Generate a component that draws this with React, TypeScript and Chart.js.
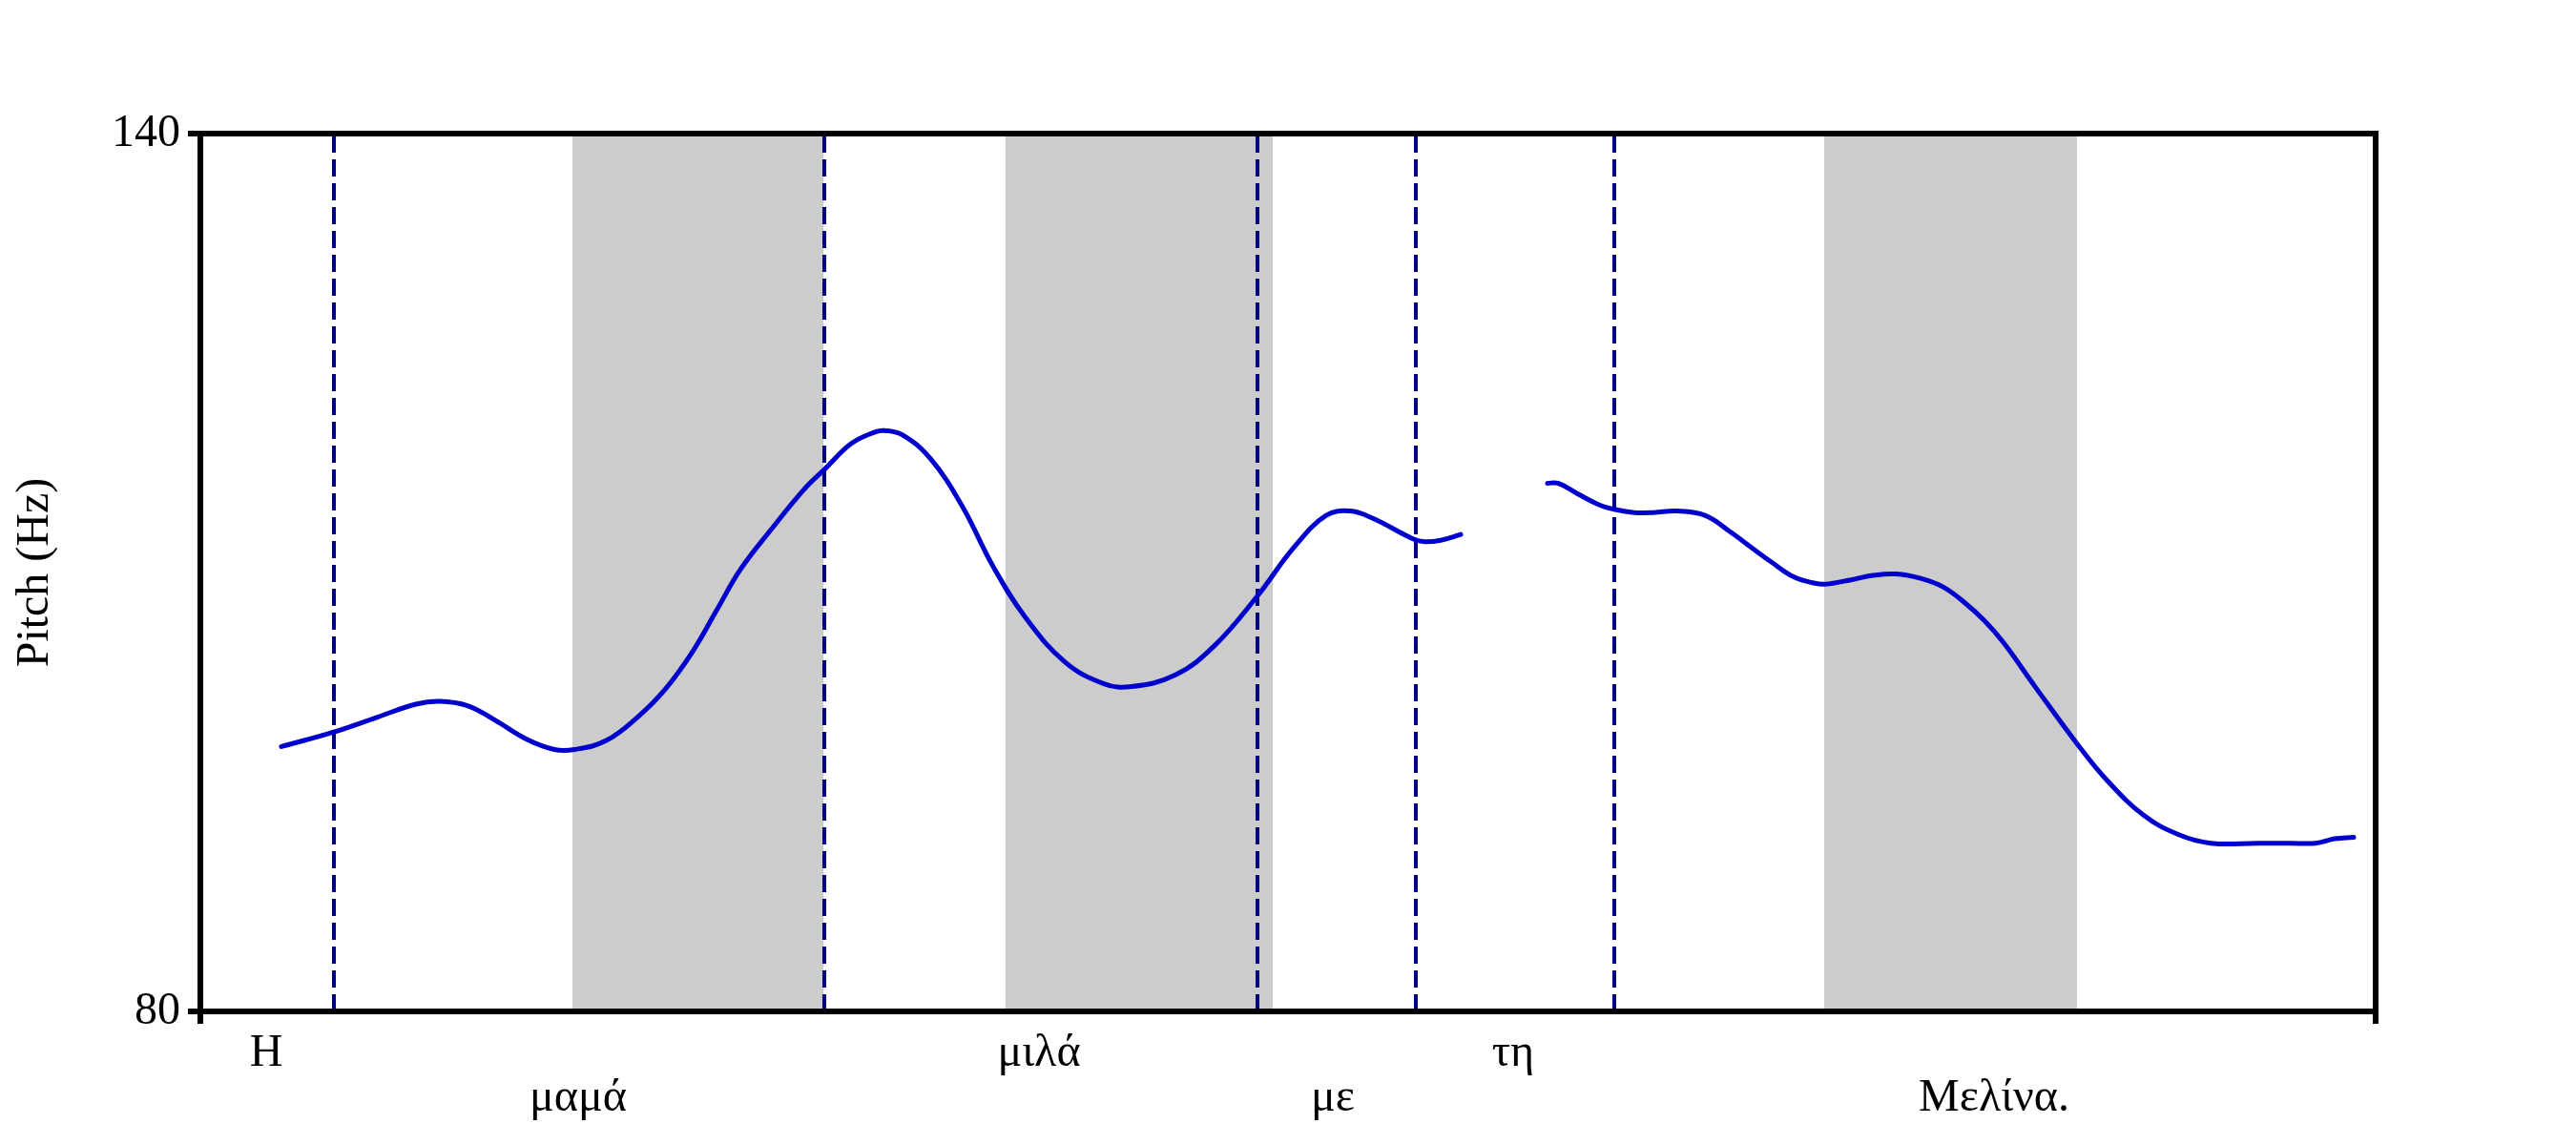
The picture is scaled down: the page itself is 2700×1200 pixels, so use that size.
import React, { useEffect, useRef } from 'react';
import { Chart, registerables } from 'chart.js';

Chart.register(...registerables);

// ---- Data (time in seconds, pitch in Hz) ----
const X_MIN = 0;
const X_MAX = 2.28;
const Y_MIN = 80;
const Y_MAX = 140;
const yTicks = [80, 140];

const segment1Time = [
  0.085, 0.14, 0.185, 0.226, 0.251, 0.28, 0.309, 0.342, 0.371, 0.392, 0.425, 0.458, 0.487, 0.516,
  0.541, 0.566, 0.599, 0.633, 0.655, 0.682, 0.707, 0.717, 0.736, 0.765, 0.798, 0.831, 0.864, 0.906,
  0.947, 0.976, 1.022, 1.063, 1.108, 1.146, 1.18, 1.205, 1.229, 1.271, 1.283, 1.3, 1.321,
];
const segment1Pitch = [
  98.1, 99.1, 100.1, 101.0, 101.2, 100.9, 99.9, 98.6, 97.9, 97.9, 98.5, 100.1, 102.0, 104.6,
  107.4, 110.2, 113.0, 115.7, 117.1, 118.8, 119.6, 119.7, 119.4, 117.8, 114.6, 110.4, 107.0, 103.9,
  102.4, 102.2, 103.0, 105.0, 108.4, 111.7, 113.9, 114.2, 113.7, 112.3, 112.1, 112.2, 112.6,
];

const segment2Time = [
  1.412, 1.423, 1.443, 1.467, 1.483, 1.503, 1.523, 1.547, 1.577, 1.603, 1.63, 1.647, 1.67, 1.69,
  1.703, 1.73, 1.753, 1.777, 1.803, 1.827, 1.85, 1.87, 1.89, 1.923, 1.967, 1.997, 2.037, 2.073,
  2.107, 2.157, 2.19, 2.217, 2.237, 2.257,
];
const segment2Pitch = [
  116.1, 116.1, 115.4, 114.6, 114.3, 114.1, 114.1, 114.2, 113.9, 112.8, 111.5, 110.7, 109.7, 109.3,
  109.2, 109.5, 109.8, 109.9, 109.6, 109.0, 107.9, 106.7, 105.2, 102.2, 98.3, 95.9, 93.4, 92.1,
  91.5, 91.5, 91.5, 91.5, 91.8, 91.9,
];

const boundaryTimes = [0.14, 0.654, 1.108, 1.274, 1.482];
const bandStarts = [0.39, 0.8435, 1.702];
const bandEnds = [0.653, 1.124, 1.967];

const wordLabels = ['Η', 'μαμά', 'μιλά', 'με', 'τη', 'Μελίνα.'];
const wordTimes = [0.069, 0.396, 0.879, 1.187, 1.376, 1.88];
const wordRows = [1, 2, 1, 2, 1, 2];

const FONT_FAMILY = "'Liberation Serif', 'Times New Roman', Times, serif";

export default function App() {
  const canvasRef = useRef<HTMLCanvasElement | null>(null);

  useEffect(() => {
    const canvas = canvasRef.current;
    if (!canvas) return;

    const font = { family: FONT_FAMILY, size: 48 };
    const xTickValues = [X_MIN, ...wordTimes, X_MAX];
    const xTickLabels: (string | string[])[] = [
      '',
      ...wordLabels.map((w, i) => (wordRows[i] === 2 ? ['', w] : w)),
      '',
    ];

    const bandDatasets = bandStarts.map((s, i) => ({
      type: 'line' as const,
      data: [
        { x: s, y: Y_MAX },
        { x: bandEnds[i], y: Y_MAX },
      ],
      xAxisID: 'x',
      yAxisID: 'y',
      borderWidth: 0,
      borderColor: 'rgba(0,0,0,0)',
      backgroundColor: '#CCCCCC',
      fill: { value: Y_MIN },
      pointRadius: 0,
      order: 3,
    }));

    const boundaryDatasets = boundaryTimes.map((t) => ({
      type: 'line' as const,
      data: [
        { x: t, y: Y_MIN },
        { x: t, y: Y_MAX },
      ],
      xAxisID: 'x',
      yAxisID: 'y',
      borderColor: '#000080',
      borderWidth: 4,
      borderDash: [18, 7],
      fill: false,
      pointRadius: 0,
      order: 2,
    }));

    const curve = (times: number[], pitch: number[]) => ({
      type: 'line' as const,
      data: times.map((t, i) => ({ x: t, y: pitch[i] })),
      xAxisID: 'x',
      yAxisID: 'y',
      borderColor: '#0000CC',
      borderWidth: 5,
      tension: 0.4,
      borderJoinStyle: 'round' as const,
      borderCapStyle: 'round' as const,
      fill: false,
      pointRadius: 0,
      order: 1,
    });

    const chart = new Chart(canvas, {
      type: 'line',
      data: {
        datasets: [
          ...bandDatasets,
          ...boundaryDatasets,
          curve(segment1Time, segment1Pitch),
          curve(segment2Time, segment2Pitch),
        ] as any,
      },
      options: {
        animation: false,
        responsive: false,
        devicePixelRatio: 1,
        layout: { padding: 0 },
        plugins: {
          legend: { display: false },
          tooltip: { enabled: false },
        },
        elements: { point: { radius: 0 } },
        scales: {
          x: {
            type: 'linear',
            position: 'bottom',
            min: X_MIN,
            max: X_MAX,
            afterBuildTicks: (s: any) => {
              s.ticks = xTickValues.map((v) => ({ value: v }));
            },
            afterFit: (s: any) => {
              s.height = 140;
            },
            ticks: {
              autoSkip: false,
              maxRotation: 0,
              minRotation: 0,
              padding: 8,
              color: '#000',
              font: { ...font, lineHeight: 0.973 },
              callback: (_v: any, i: number) => xTickLabels[i],
            },
            grid: {
              display: true,
              drawOnChartArea: false,
              drawTicks: true,
              tickLength: 13,
              lineWidth: 6,
              tickWidth: 6,
              color: (c: any) =>
                c.tick && (c.tick.value === X_MIN || c.tick.value === X_MAX) ? '#000' : 'rgba(0,0,0,0)',
            },
            border: { display: true, width: 6, color: '#000', z: 1 },
          },
          y: {
            type: 'linear',
            position: 'left',
            min: Y_MIN,
            max: Y_MAX,
            afterBuildTicks: (s: any) => {
              s.ticks = yTicks.map((v) => ({ value: v }));
            },
            afterFit: (s: any) => {
              s.width = 210;
            },
            ticks: {
              padding: 8,
              color: '#000',
              font,
              callback: (v: any) => String(v),
            },
            grid: {
              display: true,
              drawOnChartArea: false,
              drawTicks: true,
              tickLength: 13,
              lineWidth: 6,
              tickWidth: 6,
              color: '#000',
            },
            border: { display: true, width: 6, color: '#000', z: 1 },
            title: {
              display: true,
              text: 'Pitch (Hz)',
              color: '#000',
              font,
              padding: { top: 9, bottom: 0 },
            },
          },
          x2: {
            type: 'linear',
            position: 'top',
            min: X_MIN,
            max: X_MAX,
            ticks: { display: false },
            grid: { display: false },
            border: { display: true, width: 6, color: '#000', z: 1 },
            afterFit: (s: any) => {
              s.height = 140;
            },
          },
          y2: {
            type: 'linear',
            position: 'right',
            min: Y_MIN,
            max: Y_MAX,
            ticks: { display: false },
            grid: { display: false },
            border: { display: true, width: 6, color: '#000', z: 1 },
            afterFit: (s: any) => {
              s.width = 210;
            },
          },
        },
      } as any,
    });

    return () => {
      chart.destroy();
    };
  }, []);

  return (
    <div style={{ position: 'absolute', left: 0, top: 0, width: 2700, height: 1200, background: '#fff' }}>
      <canvas ref={canvasRef} width={2700} height={1200} style={{ display: 'block' }} />
    </div>
  );
}
